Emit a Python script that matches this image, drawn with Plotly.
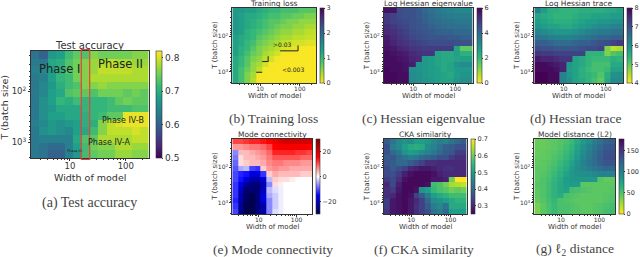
import plotly.graph_objects as go
import math

W, H = 640, 257
x_edges = [2 * 2 ** (i / 2) for i in range(15)]
y_edges = [16 * 2 ** (i / 2) for i in range(15)]

acc = [
[.62,.60,.67,.68,.72,.74,.73,.76,.75,.75,.75,.75,.76,.76],
[.63,.63,.69,.70,.73,.75,.76,.77,.78,.79,.78,.78,.77,.77],
[.64,.65,.68,.70,.73,.75,.76,.77,.79,.79,.79,.79,.78,.78],
[.63,.64,.68,.71,.72,.75,.76,.78,.78,.78,.78,.78,.78,.78],
[.63,.65,.67,.70,.72,.73,.76,.76,.77,.76,.76,.76,.76,.76],
[.63,.65,.68,.69,.73,.74,.74,.73,.75,.75,.75,.74,.75,.74],
[.63,.66,.68,.71,.70,.72,.71,.71,.71,.72,.74,.75,.74,.74],
[.63,.66,.67,.69,.69,.69,.71,.71,.71,.72,.72,.72,.73,.73],
[.63,.66,.68,.68,.69,.69,.70,.71,.72,.74,.74,.81,.81,.81],
[.64,.65,.67,.66,.67,.68,.70,.70,.76,.79,.80,.81,.81,.81],
[.63,.66,.67,.66,.65,.68,.69,.72,.76,.79,.79,.79,.80,.79],
[.63,.64,.64,.64,.64,.69,.73,.74,.78,.78,.78,.78,.79,.79],
[.63,.62,.61,.61,.64,.68,.72,.75,.76,.76,.78,.78,.77,.77],
[.63,.62,.60,.60,.64,.67,.72,.74,.75,.75,.77,.77,.76,.76],
]
loss = [
[1.4,1.4,1.3,1.3,1.2,1.1,1.0,1.0,.9,.9,.9,.8,.8,.8],
[1.4,1.3,1.2,1.2,1.1,1.0,.9,.9,.8,.8,.7,.7,.6,.6],
[1.4,1.3,1.2,1.1,1.0,.9,.8,.8,.7,.6,.6,.5,.5,.5],
[1.4,1.3,1.2,1.1,1.0,.9,.8,.7,.6,.6,.5,.5,.4,.4],
[1.4,1.3,1.1,1.0,.9,.8,.7,.6,.5,.5,.4,.4,.3,.3],
[1.3,1.2,1.1,1.0,.8,.7,.6,.5,.4,.4,.3,.3,.25,.25],
[1.3,1.2,1.0,.9,.7,.6,.5,.4,.3,.25,.2,.2,.15,.15],
[1.3,1.1,1.0,.8,.6,.5,.4,.3,.2,.15,.1,.03,.02,.02],
[1.3,1.1,.9,.7,.6,.4,.3,.2,.03,.03,.03,.02,.02,.02],
[1.2,1.0,.8,.6,.5,.3,.2,.05,.03,.02,.02,.02,.02,.02],
[1.2,1.0,.8,.5,.4,.2,.03,.03,.02,.02,.02,.02,.02,.02],
[1.2,.9,.7,.5,.3,.03,.03,.02,.02,.02,.02,.02,.02,.02],
[1.2,.9,.6,.4,.03,.03,.02,.02,.02,.02,.02,.02,.02,.02],
[1.2,.9,.6,.35,.03,.03,.02,.02,.02,.02,.02,.02,.02,.02],
]
eig = [
[5.7,5.7,4.6,4.5,4.5,4.3,4.0,3.8,3.6,3.4,3.3,3.2,3.2,3.2],
[5.0,4.8,4.6,4.5,4.5,4.3,4.1,3.9,3.7,3.6,3.5,3.4,3.4,3.4],
[5.0,4.8,4.7,4.6,4.5,4.4,4.2,4.0,3.9,3.8,3.7,3.6,3.6,3.6],
[5.2,5.0,4.8,4.7,4.5,4.4,4.3,4.1,4.0,3.9,3.8,3.8,3.8,3.7],
[5.3,5.2,5.0,4.8,4.6,4.5,4.4,4.3,4.2,4.1,4.1,4.0,4.0,4.0],
[5.5,5.3,5.1,4.9,4.7,4.6,4.5,4.4,4.4,4.4,4.3,4.3,4.2,4.2],
[5.6,5.4,5.2,5.1,4.9,4.8,4.7,4.6,4.6,4.6,4.6,4.5,4.5,4.5],
[5.7,5.6,5.4,5.3,5.1,5.0,4.9,4.9,4.9,4.9,4.9,2.5,1.5,1.5],
[5.8,5.7,5.6,5.5,5.3,5.2,5.1,5.1,2.5,2.4,2.4,2.6,2.2,2.2],
[5.8,5.8,5.7,5.6,5.4,5.3,2.8,2.7,2.5,2.4,2.4,2.5,2.6,2.6],
[5.8,5.8,5.8,5.7,5.5,2.9,2.8,2.7,2.5,2.4,2.5,2.9,3.1,3.1],
[5.9,5.8,5.8,5.7,3.0,2.9,2.8,2.7,2.6,2.4,2.5,2.7,2.8,2.8],
[5.9,5.9,5.8,5.8,3.1,3.0,2.8,2.7,2.6,2.5,2.4,2.7,2.9,2.9],
[5.9,5.9,5.8,5.8,3.1,3.0,2.9,2.8,2.6,2.5,2.5,2.8,3.0,3.0],
]
trace = [
[6.3,5.8,5.5,5.5,5.4,5.4,5.4,5.5,5.5,5.5,5.5,5.6,5.6,5.7],
[5.7,5.6,5.5,5.4,5.4,5.4,5.5,5.6,5.6,5.7,5.7,5.7,5.8,5.8],
[5.8,5.7,5.6,5.5,5.5,5.5,5.6,5.7,5.8,5.8,5.9,5.9,6.0,6.0],
[5.9,5.8,5.7,5.7,5.6,5.6,5.7,5.8,5.9,6.0,6.1,6.1,6.2,6.2],
[6.2,6.1,6.0,5.9,5.9,5.9,6.0,6.1,6.2,6.3,6.4,6.4,6.5,6.5],
[6.5,6.4,6.3,6.2,6.2,6.2,6.3,6.4,6.5,6.6,6.7,6.7,6.8,6.8],
[6.8,6.8,6.7,6.6,6.6,6.6,6.7,6.8,6.8,6.9,7.0,7.1,7.2,7.3],
[7.1,7.0,7.0,6.9,6.9,6.9,6.9,7.0,7.1,7.1,7.2,4.8,4.4,4.5],
[7.4,7.3,7.3,7.2,7.2,7.2,7.2,7.2,5.4,5.4,5.4,4.8,5.1,5.2],
[7.7,7.6,7.6,7.5,7.4,7.4,5.7,5.6,5.4,5.3,5.3,5.3,5.5,5.4],
[7.9,7.9,7.8,7.7,7.6,5.9,5.7,5.6,5.4,5.2,5.2,5.2,5.6,5.6],
[7.9,7.9,7.9,7.8,7.6,5.8,5.7,5.5,5.3,5.2,5.2,5.3,5.7,5.7],
[8.0,8.0,7.9,7.9,6.2,5.9,5.7,5.5,5.4,5.3,5.1,5.5,6.0,6.0],
[8.0,8.0,7.9,7.9,6.2,6.0,5.7,5.6,5.4,5.2,5.0,5.6,6.1,6.1],
]
conn = [
[11,11,12,13,13,14,15,17,19,20,20,20,20,20],
[6,6,7,8,8,9,11,15,16,16,16,16,16,15],
[-7,4,4,5,6,7,9,13,13,13,13,12,12,11],
[-8,2,4,4,5,6,8,10,10,10,10,10,9,9],
[-9,2,3,4,4,5,7,8,8,7,7,7,6,6],
[-10,-5,-4,-11,-12,3,6,7,6,6,5,5,5,5],
[-11,-13,-14,-18,-18,-12,3,5,4,4,4,4,3,3],
[-11,-14,-18,-22,-22,-18,-4,3,2,2,1,0,0,0],
[-12,-17,-24,-26,-26,-22,-7,2,1,0,0,0,0,0],
[-12,-20,-27,-27,-27,-20,-4,-2,-1,0,0,0,0,0],
[-12,-22,-28,-30,-26,-18,-5,-3,-1,0,0,0,0,0],
[-13,-22,-28,-30,-26,-18,-7,-3,-1,0,0,0,0,0],
[-12,-24,-30,-30,-26,-22,-7,-3,-1,0,0,0,0,0],
[-11,-24,-30,-30,-26,-22,-7,-2,-1,0,0,0,0,0],
]
cka = [
[.38,.42,.46,.48,.47,.50,.50,.49,.46,.44,.45,.42,.40,.38],
[.36,.44,.46,.50,.52,.53,.52,.47,.45,.42,.39,.38,.36,.36],
[.36,.40,.43,.48,.50,.49,.47,.45,.43,.40,.38,.37,.33,.33],
[.38,.37,.40,.42,.44,.43,.40,.39,.38,.36,.36,.33,.31,.31],
[.37,.38,.40,.40,.38,.36,.34,.31,.31,.30,.30,.30,.30,.30],
[.35,.38,.36,.34,.30,.29,.28,.28,.29,.30,.31,.31,.30,.30],
[.35,.36,.33,.29,.27,.26,.26,.26,.27,.29,.30,.30,.30,.30],
[.33,.35,.31,.27,.26,.26,.26,.26,.28,.28,.29,.60,.70,.70],
[.30,.35,.29,.26,.26,.26,.26,.27,.56,.57,.60,.64,.65,.66],
[.31,.33,.28,.26,.26,.27,.48,.50,.55,.57,.58,.60,.59,.60],
[.31,.30,.27,.26,.27,.34,.38,.44,.50,.52,.54,.56,.56,.56],
[.33,.28,.27,.26,.28,.30,.34,.40,.47,.48,.50,.52,.54,.54],
[.33,.28,.27,.26,.28,.31,.34,.38,.44,.46,.42,.52,.52,.52],
[.32,.28,.27,.26,.28,.31,.34,.36,.42,.44,.40,.50,.50,.50],
]
dist = [
[42,42,44,46,48,52,58,70,82,92,102,112,122,126],
[42,42,44,46,50,55,62,74,88,98,108,118,128,130],
[42,44,46,48,52,58,66,78,92,104,114,124,132,134],
[44,44,46,50,54,60,70,82,96,106,116,126,134,136],
[44,46,48,52,58,66,76,88,98,108,116,124,130,130],
[46,46,50,54,62,70,82,90,96,102,108,114,118,118],
[46,48,52,58,66,76,84,88,90,92,96,98,100,100],
[46,50,54,62,70,80,84,84,84,84,84,48,44,44],
[48,50,56,64,72,78,82,80,46,46,46,46,46,46],
[46,50,56,64,72,76,54,52,50,48,46,46,46,48],
[46,50,56,64,68,52,50,48,46,46,46,46,48,50],
[44,48,54,60,52,50,48,46,46,46,46,46,48,50],
[38,46,52,58,52,52,50,48,46,46,48,50,52,54],
[36,46,52,58,52,52,50,48,46,46,48,50,54,56],
]

panels = [
 dict(title="Test accuracy", caption="(a) Test accuracy", z=acc, cs="Viridis", lo=.5, hi=.82, cb=[.5,.6,.7,.8],
      box=(31,149,51,158), bar=(156,162), big=True, yl=5, capx=89.5),
 dict(title="Training loss", caption="(b) Training loss", z=loss, cs="Viridis_r", lo=0, hi=3, cb=[0,1,2,3],
      box=(233,317,8,83), bar=(321,325), big=False, yl=215, capx=274.5),
 dict(title="Log Hessian eigenvalue", caption="(c) Hessian eigenvalue", z=eig, cs="Viridis_r", lo=0, hi=6, cb=[0,2,4,6],
      box=(385,474,8,83), bar=(478,483), big=False, yl=368, capx=425),
 dict(title="Log Hessian trace", caption="(d) Hessian trace", z=trace, cs="Viridis_r", lo=4, hi=8, cb=[4,5,6,7,8],
      box=(536,625,8,83), bar=(629,634), big=False, yl=518, capx=577),
 dict(title="Mode connectivity", caption="(e) Mode connectivity", z=conn, cs="seismic", lo=-30, hi=30, cb=[-20,0,20],
      box=(233,313,139,214), bar=(317,321), big=False, yl=215, capx=273.5),
 dict(title="CKA similarity", caption="(f) CKA similarity", z=cka, cs="Viridis", lo=.25, hi=.7, cb=[.3,.4,.5,.6,.7],
      box=(385,468,139,214), bar=(472,476), big=False, yl=368, capx=425),
 dict(title="Model distance (L2)", caption="(g) ℓ<sub>2</sub> distance", z=dist, cs="Viridis_r", lo=0, hi=178, cb=[0,50,100,150],
      box=(536,617,139,214), bar=(621,626), big=False, yl=518, capx=577),
]
seismic = [[0,"#00004c"],[.25,"#0000ff"],[.5,"#ffffff"],[.75,"#ff0000"],[1,"#800000"]]
minor_x = [3,4,5,6,7,8,9,20,30,40,50,60,70,80,90,200]
minor_y = [20,30,40,50,60,70,80,90,200,300,400,500,600,700,800,900,2000]

fig = go.Figure()
ann = []
INK = "#333333"

def A(text, x, y, size, family="DejaVu Sans", color=INK, **kw):
    ann.append(dict(text=text, x=x / W, y=1 - y / H, xref="paper", yref="paper", showarrow=False,
                    font=dict(size=size, family=family, color=color), xanchor="center", yanchor="middle", **kw))

for n, p in enumerate(panels):
    i = "" if n == 0 else str(n + 1)
    x0, x1, y0, y1 = p["box"]
    ts, ls, tt = (8.5, 9.5, 10) if p["big"] else (6, 7, 7.5)
    fig.add_trace(go.Heatmap(
        x=x_edges, y=y_edges, z=p["z"], xaxis="x" + i, yaxis="y" + i,
        colorscale=seismic if p["cs"] == "seismic" else p["cs"], zmin=p["lo"], zmax=p["hi"],
        colorbar=dict(x=p["bar"][0] / W, xanchor="left", xref="paper", y=1 - y1 / H, yanchor="bottom", yref="paper",
                      len=(y1 - y0) / H, lenmode="fraction", thickness=p["bar"][1] - p["bar"][0], thicknessmode="pixels",
                      tickvals=p["cb"], ticks="outside", ticklen=1.5, tickwidth=.6, tickcolor=INK, outlinewidth=.6, outlinecolor=INK,
                      tickfont=dict(size=6.5 if not p["big"] else 9, color=INK, family="DejaVu Sans"), xpad=0, ypad=0),
        showscale=True, hoverinfo="skip"))
    axis = dict(showgrid=False, zeroline=False, showline=True, mirror=True, linecolor=INK, linewidth=.8,
                ticks="outside", ticklen=2, tickwidth=.6, tickcolor=INK,
                tickfont=dict(size=ts, color=INK, family="DejaVu Sans"))
    fig.update_layout(**{
        "xaxis" + i: dict(domain=[x0 / W, x1 / W], type="log", range=[math.log10(2), math.log10(256)], anchor="y" + i,
                          tickvals=[10, 100], ticktext=["10", "100"], ticklabelstandoff=-2,
                          minor=dict(tickvals=minor_x, ticks="outside", ticklen=1, tickwidth=.4, tickcolor=INK), **axis),
        "yaxis" + i: dict(domain=[1 - y1 / H, 1 - y0 / H], type="log", range=[math.log10(2048), math.log10(16)], anchor="x" + i,
                          tickvals=[100, 1000], ticktext=["10<sup>2</sup>", "10<sup>3</sup>"],
                          minor=dict(tickvals=minor_y, ticks="outside", ticklen=1, tickwidth=.4, tickcolor=INK), **axis),
    })
    cx = (x0 + x1) / 2
    A(p["title"], cx, y0 - (6 if p["big"] else 4.5), tt)
    A("Width of model", cx, y1 + (19 if p["big"] else 13), ls)
    A("T (batch size)", p["yl"], (y0 + y1) / 2 + (3 if p["big"] else 0), ls, textangle=-90)
    capy = 203 if p["big"] else (118.5 if y0 < 100 else 249)
    A(p["caption"], p["capx"], capy, 14 if p["big"] else 13.5, family="Liberation Serif", color="#444444")

def T(text, ax, xv, yv, size):
    ann.append(dict(text=text, x=math.log10(xv), y=math.log10(yv), xref="x" + ax, yref="y" + ax, showarrow=False,
                    font=dict(size=size, family="DejaVu Sans", color="#222222")))

T("Phase I", "", 6.5, 36, 11.5)
T("Phase II", "", 80, 29, 11.5)
T("Phase IV-B", "", 91, 366, 8)
T("Phase IV-A", "", 51.5, 1037, 8)
T("Phase III", "", 12, 1490, 3.5)
T("&gt;0.03", "2", 36, 175, 6)
T("&lt;0.003", "2", 68, 828, 6)

# boundary staircases on the training-loss panel (grid-edge indices)
stairs = [[(4,12),(5,12)], [(5,10),(6,10),(6,9)], [(8,8),(11,8),(11,7)]]
for s in stairs:
    fig.add_trace(go.Scatter(x=[x_edges[a] for a, b in s], y=[y_edges[b] for a, b in s], mode="lines",
                             line=dict(color="#222222", width=1), xaxis="x2", yaxis="y2", showlegend=False, hoverinfo="skip"))

fig.update_layout(
    width=W, height=H, margin=dict(l=0, r=0, t=0, b=0), paper_bgcolor="white", plot_bgcolor="white",
    annotations=ann,
    shapes=[dict(type="rect", xref="x", yref="paper", x0=16, x1=22.6, y0=1 - 159.5 / H, y1=1 - 49.5 / H,
                 line=dict(color="#e8423c", width=1.2), fillcolor="rgba(255,80,80,0.03)")],
)
fig.write_html("out.html", config=dict(displayModeBar=False),
               post_script="document.body.style.margin='0';document.body.style.overflow='hidden';")
